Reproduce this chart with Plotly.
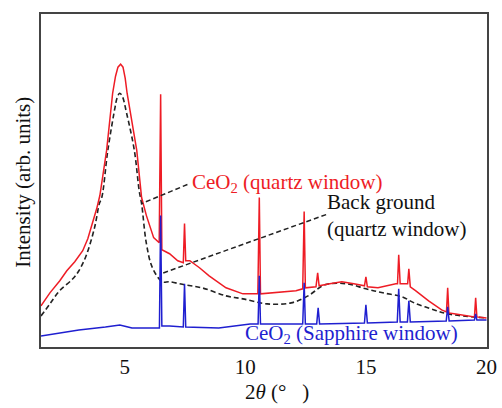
import plotly.graph_objects as go

# ---- data (2theta in degrees, intensity in arbitrary units) ----
tt_quartz = [1.53, 1.9, 2.31, 2.6, 2.93, 3.26, 3.47, 3.68, 3.84, 3.97, 4.25, 4.5, 4.62, 4.72, 4.83, 4.93,
             5.02, 5.1, 5.5, 5.7, 5.9, 6.2,
             6.43, 6.49, 6.54, 6.86, 7.2, 7.43, 7.48, 7.53, 7.7, 8.1, 8.5, 9.2, 9.9,
             10.52, 10.58, 10.63, 11.2, 12.1, 12.38, 12.44, 12.49, 12.93, 13.0, 13.06,
             13.5, 14.0, 14.5, 14.94, 15.0, 15.06, 15.5, 15.83, 16.24, 16.31, 16.36, 16.42,
             16.73, 16.78, 16.84, 17.07, 17.6, 18.14, 18.34, 18.39, 18.44, 18.72, 19.26,
             19.5, 19.55, 19.6, 20.0]
int_quartz = [41, 54, 66, 76, 85, 96, 108, 124, 138, 151, 196, 253, 270, 279, 282, 279,
              268, 253, 196, 149, 131, 109,
              104, 252, 97, 93, 86, 84, 123, 86, 86, 79, 71, 59, 53,
              53, 149, 53, 54, 56, 58, 135, 59, 60, 74, 61,
              63, 65, 63, 61, 70, 60, 59, 61, 63, 63, 92, 63,
              63, 78, 60, 56, 46, 37, 35, 59, 34, 33, 31,
              30, 49, 30, 29]

tt_bg = [1.53, 1.9, 2.3, 2.85, 3.1, 3.4, 3.75, 3.95, 4.05, 4.3, 4.6, 4.68, 4.79, 4.9, 5.08, 5.4, 5.6,
         5.7, 5.9, 6.15, 6.56, 6.86, 7.48, 8.2, 9.2, 9.9, 10.9, 11.9, 12.6, 13.3, 14.2, 15.0, 15.7,
         16.5, 17.0, 17.7, 18.4, 20.0]
int_bg = [31, 43, 56, 68, 76, 91, 119, 143, 149, 196, 239, 248, 253, 250, 233, 196, 156,
          143, 103, 79, 65, 65, 62, 59, 51, 48, 43, 44, 51, 62, 63, 58, 54,
          50, 44, 38, 33, 29]

tt_sapphire = [1.53, 2.3, 3.1, 4.2, 4.8, 5.3, 6.15, 6.44, 6.49, 6.54, 6.86, 7.43, 7.48, 7.53,
               8.9, 10.2, 10.53, 10.58, 10.63, 12.38, 12.44, 12.49, 12.96, 13.02, 13.08,
               14.94, 15.0, 15.06, 16.3, 16.36, 16.42, 16.72, 16.78, 16.84, 18.33, 18.39,
               18.45, 19.5, 19.55, 19.6, 20.0]
int_sapphire = [11, 14, 17, 20, 22, 19, 19, 19, 131, 21, 21, 20, 63, 20,
                19, 23, 23, 71, 23, 23, 64, 23, 23, 39, 23,
                24, 42, 24, 25, 58, 25, 25, 46, 25, 26, 40,
                26, 27, 33, 27, 27]

x_ticks = [5, 10, 15, 20]

RED = "#ee1c25"
BLUE = "#1f1fd0"
FONT = "Liberation Serif"

fig = go.Figure()
fig.add_trace(go.Scatter(x=tt_bg, y=int_bg, mode="lines", line=dict(color="#222222", width=1.6, dash="5px,3px"),
                         line_shape="spline", hoverinfo="skip"))
fig.add_trace(go.Scatter(x=tt_quartz, y=int_quartz, mode="lines", line=dict(color=RED, width=1.5),
                         hoverinfo="skip"))
fig.add_trace(go.Scatter(x=tt_sapphire, y=int_sapphire, mode="lines", line=dict(color=BLUE, width=1.5),
                         hoverinfo="skip"))

# leader lines
fig.add_shape(type="line", x0=7.6, y0=162, x1=5.7, y1=143, line=dict(color="#222222", width=1.5, dash="5px,3px"))
fig.add_shape(type="line", x0=13.35, y0=132, x1=6.5, y1=73, line=dict(color="#222222", width=1.5, dash="5px,3px"))

fig.add_annotation(x=7.72, y=164, text="CeO<sub>2</sub> (quartz window)", showarrow=False,
                   xanchor="left", yanchor="middle", font=dict(family=FONT, size=21, color=RED))
fig.add_annotation(x=13.3, y=131, text="Back ground<br>(quartz window)", showarrow=False, align="left",
                   xanchor="left", yanchor="middle", font=dict(family=FONT, size=21, color="#111111"))
fig.add_annotation(x=9.9, y=13, text="CeO<sub>2</sub> (Sapphire window)", showarrow=False,
                   xanchor="left", yanchor="middle", font=dict(family=FONT, size=21, color=BLUE))

fig.add_annotation(x=-0.04, y=0.494, xref="paper", yref="paper", text="Intensity (arb. units)", textangle=-90,
                   showarrow=False, xanchor="center", yanchor="middle", font=dict(family=FONT, size=21, color="#111111"))
fig.add_annotation(x=0.53, y=-0.135, xref="paper", yref="paper", text="2<i>θ</i> (°   )",
                   showarrow=False, xanchor="center", yanchor="middle", font=dict(family=FONT, size=21, color="#111111"))

fig.update_xaxes(range=[1.53, 20.02], tickvals=x_ticks, ticktext=[str(v) for v in x_ticks], automargin=False,
                 showgrid=False, zeroline=False, showline=True, mirror=True, linecolor="#444444", linewidth=1.5,
                 ticks="", tickfont=dict(family=FONT, size=21, color="#111111"))
fig.update_yaxes(range=[0, 332], showticklabels=False, showgrid=False, zeroline=False, showline=True,
                 automargin=False, mirror=True, linecolor="#444444", linewidth=1.5, ticks="")

fig.update_layout(width=502, height=408, margin=dict(l=41, r=15, t=14, b=61), showlegend=False,
                  plot_bgcolor="white", paper_bgcolor="white")

fig.write_html(
    "out.html",
    config={"displayModeBar": False, "responsive": False},
    post_script=(
        "document.documentElement.style.overflow='hidden';"
        "document.body.style.margin='0';document.body.style.overflow='hidden';"
        "Plotly.relayout('{plot_id}', {width: 502, height: 408});"
    ),
)
